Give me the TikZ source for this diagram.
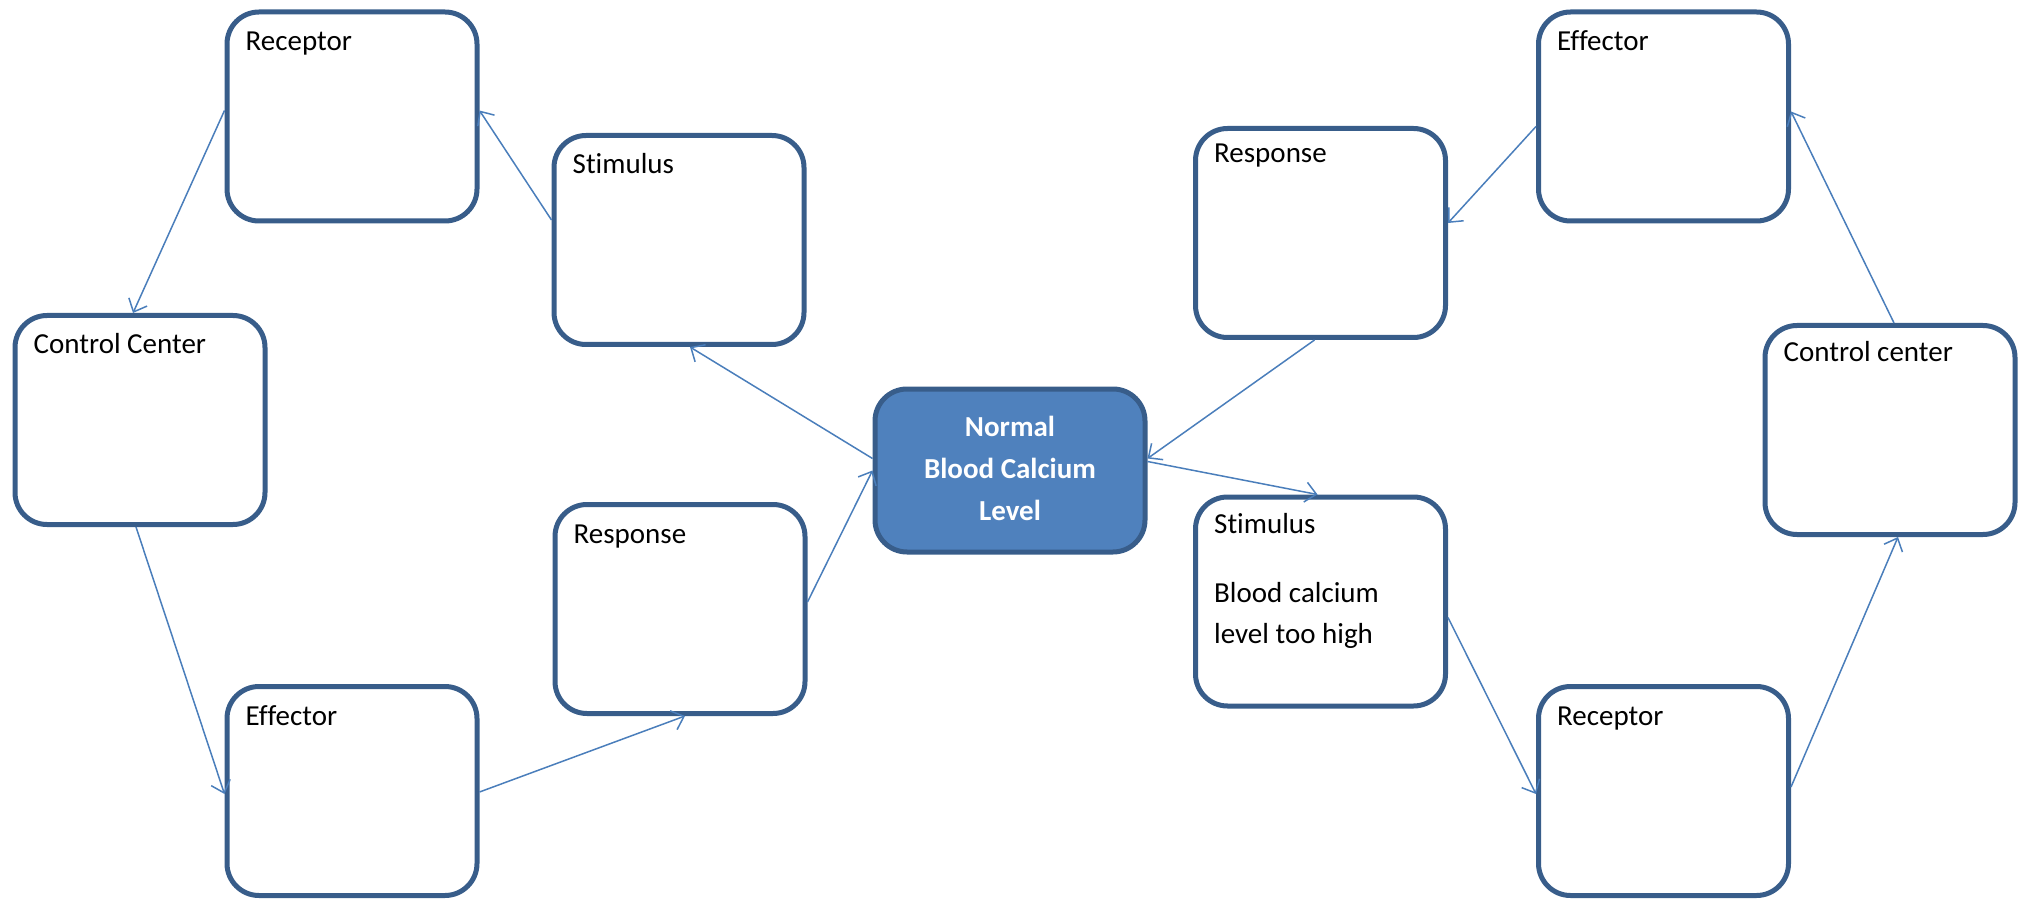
\documentclass[tikz,border=0pt]{standalone}
\usepackage{fontspec}
\setmainfont{Carlito}[Ligatures={NoCommon}]
\usetikzlibrary{arrows.meta}
\definecolor{bordc}{HTML}{385D8A}
\definecolor{fillc}{HTML}{4F81BD}
\definecolor{linec}{HTML}{4A7EBB}
\begin{document}
\begin{tikzpicture}[x=1pt,y=-1pt,
  box/.style={draw=bordc, line width=5pt, rounded corners=32pt, minimum width=250pt, minimum height=209pt, inner sep=0pt, fill=white},
  lbl/.style={anchor=base west, inner sep=0pt, font=\fontsize{29}{42}\selectfont},
  ctr/.style={anchor=base, inner sep=0pt, text=white, font=\bfseries\fontsize{29}{42}\selectfont},
  conn/.style={draw=linec, line width=1.5pt, -{Straight Barb[length=11pt,width=20pt,line width=1.5pt]}}]
\useasboundingbox (0,0) rectangle (2030,901);

% boxes
\node[box] (RL) at (352,116.5) {};
\node[box] (SL) at (679,240) {};
\node[box] (CL) at (140,420) {};
\node[box] (PL) at (680,609) {};
\node[box] (EL) at (352,791) {};
\node[box, fill=fillc, minimum width=270pt, minimum height=163pt] (N) at (1010,470.5) {};
\node[box] (PR) at (1320.5,233) {};
\node[box] (ER) at (1663.5,116.5) {};
\node[box] (CR) at (1890,430) {};
\node[box] (SR) at (1320.5,601.5) {};
\node[box] (RR) at (1663.5,791) {};

% labels
\node[lbl] (tRL) at ([xshift=21pt,yshift=-41pt]RL.north west) {Receptor};
\node[lbl] (tSL) at ([xshift=21pt,yshift=-41pt]SL.north west) {Stimulus};
\node[lbl] (tCL) at ([xshift=21pt,yshift=-41pt]CL.north west) {Control Center};
\node[lbl] (tPL) at ([xshift=21pt,yshift=-41pt]PL.north west) {Response};
\node[lbl] (tEL) at ([xshift=21pt,yshift=-41pt]EL.north west) {Effector};
\node[lbl] (tPR) at ([xshift=21pt,yshift=-37pt]PR.north west) {Response};
\node[lbl] (tER) at ([xshift=21pt,yshift=-41pt]ER.north west) {Effector};
\node[lbl] (tCR) at ([xshift=21pt,yshift=-39pt]CR.north west) {Control center};
\node[lbl] (tSR) at ([xshift=21pt,yshift=-39pt]SR.north west) {Stimulus};
\node[lbl] (tSR2) at ([xshift=21pt,yshift=-108pt]SR.north west) {Blood calcium};
\node[lbl] (tSR3) at ([xshift=21pt,yshift=-149pt]SR.north west) {level too high};
\node[lbl] (tRR) at ([xshift=21pt,yshift=-41pt]RR.north west) {Receptor};
\node[ctr] (tN1) at (1010,436) {Normal};
\node[ctr] (tN2) at (1010,478) {Blood Calcium};
\node[ctr] (tN3) at (1010,520) {Level};

% connectors (left loop)
\draw[conn] ([yshift=6pt]RL.west) -- ([xshift=-7pt]CL.north);
\draw[conn] ([xshift=-4pt]CL.south) -- ([yshift=-3pt]EL.west);
\draw[conn] ([yshift=-1pt]EL.east) -- ([xshift=5pt]PL.south);
\draw[conn] ([yshift=7pt]PL.east) -- ([yshift=0pt]N.west);
\draw[conn] ([yshift=12pt]N.west) -- ([xshift=11pt]SL.south);
\draw[conn] ([yshift=20pt]SL.west) -- ([yshift=6pt]RL.east);
% connectors (right loop)
\draw[conn] ([yshift=9pt]N.east) -- ([xshift=-3pt]SR.north);
\draw[conn] ([yshift=-16pt]SR.east) -- ([yshift=-3pt]RR.west);
\draw[conn] ([yshift=4pt]RR.east) -- ([xshift=8pt]CR.south);
\draw[conn] ([xshift=4pt]CR.north) -- ([yshift=5pt]ER.east);
\draw[conn] ([yshift=-10pt]ER.west) -- ([yshift=10pt]PR.east);
\draw[conn] ([xshift=-6pt]PR.south) -- ([yshift=12pt]N.east);
\end{tikzpicture}
\end{document}
